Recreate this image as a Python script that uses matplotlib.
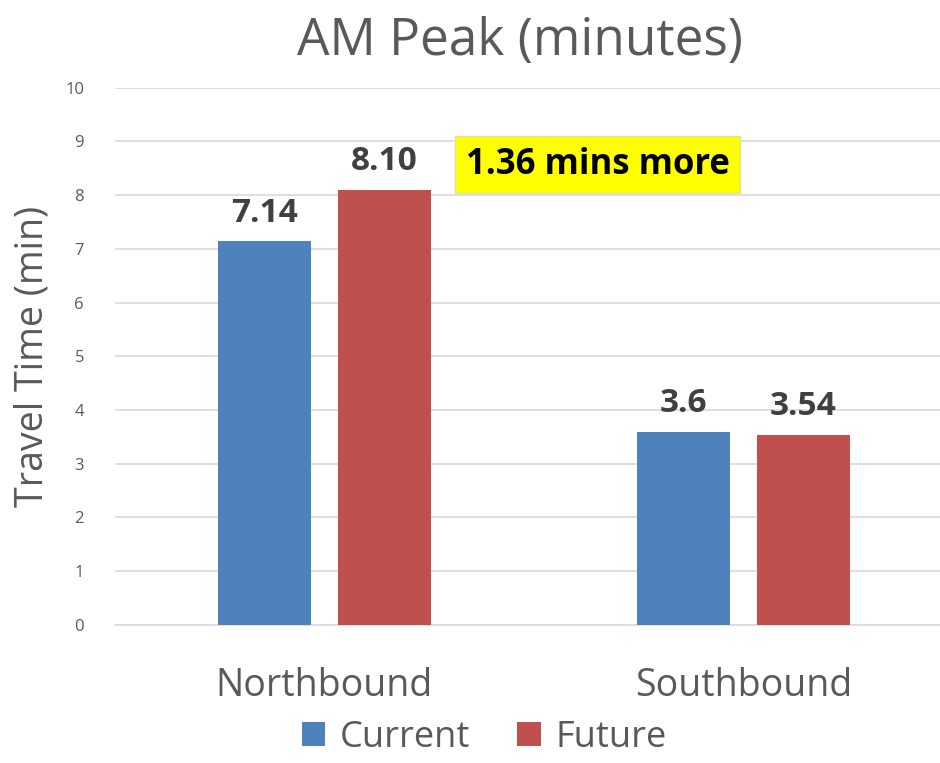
import numpy as np
import matplotlib
matplotlib.use("Agg")
import matplotlib.pyplot as plt

plt.rcParams['font.family'] = ['Open Sans', 'DejaVu Sans']

directions = ["Northbound", "Southbound"]
current = [7.14, 3.6]
future = [8.10, 3.54]
current_labels = ["7.14", "3.6"]
future_labels = ["8.10", "3.54"]
series_names = ["Current", "Future"]
yticks = list(range(0, 11))

blue = "#4F81BD"
red = "#C0504D"
grey = "#595959"

fig = plt.figure(figsize=(9.4, 7.63), dpi=100)
ax = fig.add_axes([0.122, 0.181, 0.878, 0.704])

x = np.arange(len(directions))
w = 0.222
off = 0.143
b1 = ax.bar(x - off, current, w, color=blue, label=series_names[0], zorder=3)
b2 = ax.bar(x + off, future, w, color=red, label=series_names[1], zorder=3)

for bars, labels in ((b1, current_labels), (b2, future_labels)):
    for rect, lab in zip(bars, labels):
        ax.text(rect.get_x() + rect.get_width() / 2, rect.get_height() + 0.22, lab,
                ha="center", va="bottom", fontsize=24, fontweight="bold", color="#404040")

ax.text(0.652, 8.57, "1.36 mins more", ha="center", va="center", fontsize=25,
        fontweight="bold", color="black", zorder=4,
        bbox=dict(boxstyle="square,pad=0.3", facecolor="#FFFF00", edgecolor="#E0E0A0", lw=1))

ax.set_xlim(-0.5, 1.469)
ax.set_ylim(0, 10)
ax.set_yticks(yticks)
ax.set_xticks(x)
ax.set_xticklabels(directions, fontsize=27, color=grey)
ax.tick_params(axis="x", length=0, pad=30)
ax.tick_params(axis="y", length=0, labelsize=12, colors=grey, pad=22)
ax.yaxis.grid(True, color="#D9D9D9", lw=1.2, zorder=0)
for s in ("top", "right", "left"):
    ax.spines[s].set_visible(False)
ax.spines["bottom"].set_color("#D9D9D9")
ax.spines["bottom"].set_linewidth(1.2)

ax.set_ylabel("Travel Time (min)", fontsize=27, color=grey, labelpad=10)
fig.text(0.553, 0.945, "AM Peak (minutes)", ha="center", va="center", fontsize=37, color=grey)

fig.legend(loc="lower center", bbox_to_anchor=(0.515, 0.0), ncol=2, frameon=False,
           fontsize=26, labelcolor=grey, handlelength=0.65, handleheight=0.65,
           handletextpad=0.4, columnspacing=1.3, borderaxespad=0.1, borderpad=0.1)

fig.savefig("out.png", dpi=100)
